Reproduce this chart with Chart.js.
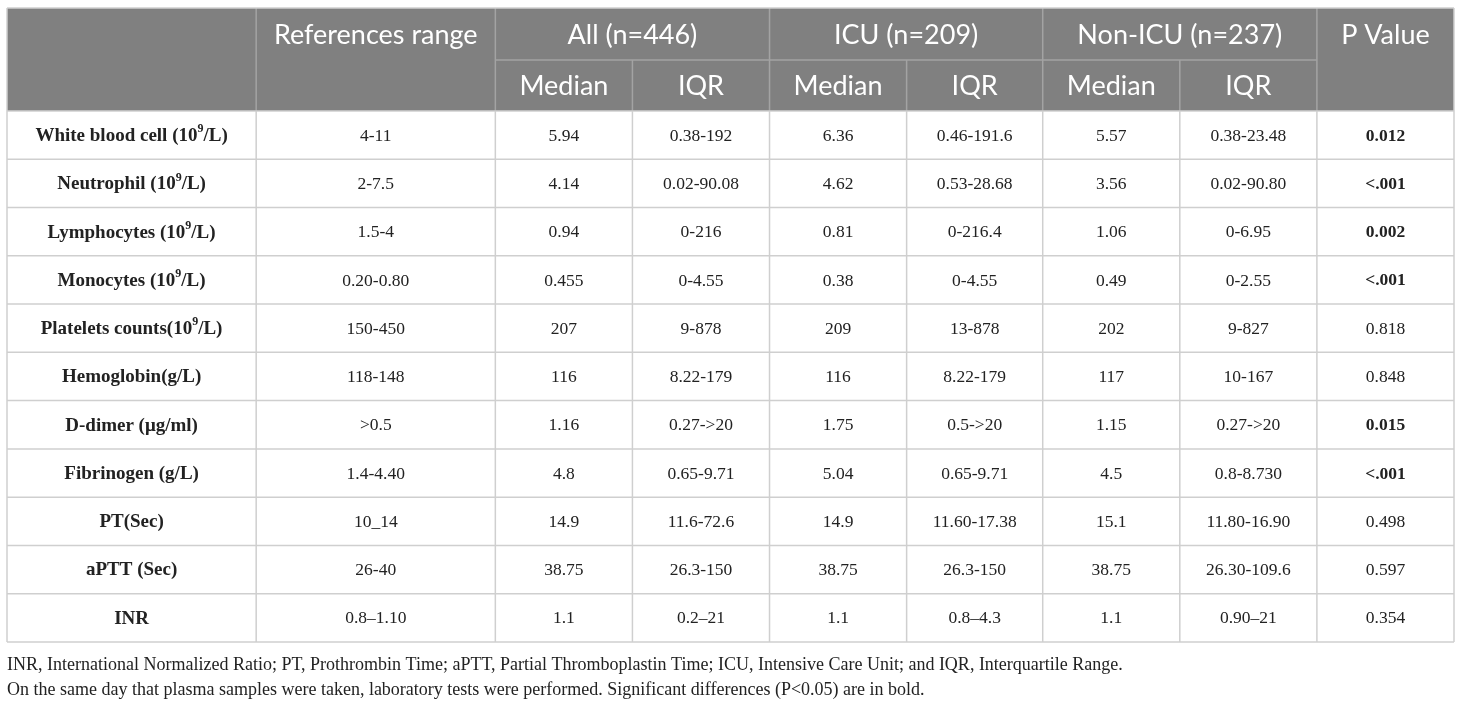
<!DOCTYPE html>
<html>
<head>
<meta charset="utf-8">
<script src="https://cdn.jsdelivr.net/npm/chart.js@4.4.1/dist/chart.umd.min.js"></script>
<style>
  html, body { margin: 0; padding: 0; background: #fff; }
  #wrap { width: 1460px; height: 704px; }
</style>
</head>
<body>
<div id="wrap"><canvas id="labTable"></canvas></div>
<script>
// table content
const rowLabels = [
    "White blood cell (10⁹/L)", "Neutrophil (10⁹/L)", "Lymphocytes (10⁹/L)", "Monocytes (10⁹/L)",
    "Platelets counts(10⁹/L)", "Hemoglobin(g/L)", "D-dimer (μg/ml)", "Fibrinogen (g/L)",
    "PT(Sec)", "aPTT (Sec)", "INR"
];
const referenceRanges = ["4-11", "2-7.5", "1.5-4", "0.20-0.80", "150-450", "118-148", ">0.5", "1.4-4.40", "10_14", "26-40", "0.8–1.10"];
const allMedian = ["5.94", "4.14", "0.94", "0.455", "207", "116", "1.16", "4.8", "14.9", "38.75", "1.1"];
const allIQR = ["0.38-192", "0.02-90.08", "0-216", "0-4.55", "9-878", "8.22-179", "0.27->20", "0.65-9.71", "11.6-72.6", "26.3-150", "0.2–21"];
const icuMedian = ["6.36", "4.62", "0.81", "0.38", "209", "116", "1.75", "5.04", "14.9", "38.75", "1.1"];
const icuIQR = ["0.46-191.6", "0.53-28.68", "0-216.4", "0-4.55", "13-878", "8.22-179", "0.5->20", "0.65-9.71", "11.60-17.38", "26.3-150", "0.8–4.3"];
const nonIcuMedian = ["5.57", "3.56", "1.06", "0.49", "202", "117", "1.15", "4.5", "15.1", "38.75", "1.1"];
const nonIcuIQR = ["0.38-23.48", "0.02-90.80", "0-6.95", "0-2.55", "9-827", "10-167", "0.27->20", "0.8-8.730", "11.80-16.90", "26.30-109.6", "0.90–21"];
const pValues = ["0.012", "<.001", "0.002", "<.001", "0.818", "0.848", "0.015", "<.001", "0.498", "0.597", "0.354"];
const significant = [true, true, true, true, false, false, true, true, false, false, false];

const topHeaders = ["References range", "P Value"];
const groupHeaders = ["All (n=446)", "ICU (n=209)", "Non-ICU (n=237)"];
const subHeaders = ["Median", "IQR"];
const footnotes = [
    "INR, International Normalized Ratio; PT, Prothrombin Time; aPTT, Partial Thromboplastin Time; ICU, Intensive Care Unit; and IQR, Interquartile Range.",
    "On the same day that plasma samples were taken, laboratory tests were performed. Significant differences (P<0.05) are in bold."
];

// layout
const colWidths = [249, 239, 137, 137, 137, 136, 137, 137, 137];
const headerHeights = [52, 51];
const rowHeight = 48.3;
const headerFill = "#808080";
const gridColor = "#cfcfcf";
const headerLine = "#a3a3a3";
const textColor = "#222222";

const colEdges = [0];
colWidths.forEach(w => colEdges.push(colEdges[colEdges.length - 1] + w));
const rowEdges = [0, headerHeights[0], headerHeights[0] + headerHeights[1]];
rowLabels.forEach(() => rowEdges.push(rowEdges[rowEdges.length - 1] + rowHeight));
const tableWidth = colEdges[colEdges.length - 1];
const tableHeight = rowEdges[rowEdges.length - 1];

// draws text, turning "⁹" into a raised small 9
function drawText(ctx, text, cx, cy, size, weight, family, color, align) {
    const main = (weight ? weight + " " : "") + size + "px " + family;
    const sup = (weight ? weight + " " : "") + Math.round(size * 0.62) + "px " + family;
    const parts = text.split(/(⁹)/).filter(p => p.length);
    ctx.save();
    ctx.fillStyle = color;
    ctx.textBaseline = "middle";
    ctx.textAlign = "left";
    let total = 0;
    const widths = parts.map(p => {
        ctx.font = p === "⁹" ? sup : main;
        const w = ctx.measureText(p === "⁹" ? "9" : p).width;
        total += w;
        return w;
    });
    let x = align === "left" ? cx : cx - total / 2;
    parts.forEach((p, k) => {
        if (p === "⁹") {
            ctx.font = sup;
            ctx.fillText("9", x, cy - size * 0.36);
        } else {
            ctx.font = main;
            ctx.fillText(p, x, cy);
        }
        x += widths[k];
    });
    ctx.restore();
}

function line(ctx, x1, y1, x2, y2, color, w) {
    ctx.beginPath();
    ctx.strokeStyle = color;
    ctx.lineWidth = w;
    ctx.moveTo(x1, y1);
    ctx.lineTo(x2, y2);
    ctx.stroke();
}

const tablePlugin = {
    id: "tablePlugin",
    afterDraw(chart) {
        const ctx = chart.ctx;
        const xs = chart.scales.x;
        const ys = chart.scales.y;
        const X = i => xs.getPixelForValue(colEdges[i]);
        const Y = j => ys.getPixelForValue(rowEdges[j]);
        const nCols = colWidths.length;
        const nRows = rowEdges.length - 1;

        // header background
        ctx.fillStyle = headerFill;
        ctx.fillRect(X(0), Y(0), X(nCols) - X(0), Y(2) - Y(0));

        // header lines
        [1, 2, 4, 6, 8].forEach(i => line(ctx, X(i), Y(0), X(i), Y(2), headerLine, 1.5));
        [3, 5, 7].forEach(i => line(ctx, X(i), Y(1), X(i), Y(2), headerLine, 1.5));
        line(ctx, X(2), Y(1), X(8), Y(1), headerLine, 1.5);

        // body grid
        for (let j = 2; j <= nRows; j++) line(ctx, X(0), Y(j), X(nCols), Y(j), gridColor, 1.5);
        for (let i = 0; i <= nCols; i++) line(ctx, X(i), Y(2), X(i), Y(nRows), gridColor, 1.5);
        line(ctx, X(0), Y(0), X(nCols), Y(0), gridColor, 1.5);
        line(ctx, X(0), Y(0), X(0), Y(2), gridColor, 1.5);
        line(ctx, X(nCols), Y(0), X(nCols), Y(2), gridColor, 1.5);

        // header text
        const hFam = "Lato";
        const hSize = 27;
        const midRow0 = (Y(0) + Y(1)) / 2 + 1;
        const midRow1 = (Y(1) + Y(2)) / 2 + 1;
        drawText(ctx, topHeaders[0], (X(1) + X(2)) / 2, midRow0, hSize, "", hFam, "#ffffff");
        drawText(ctx, topHeaders[1], (X(8) + X(9)) / 2, midRow0, hSize, "", hFam, "#ffffff");
        groupHeaders.forEach((g, k) => {
            const a = 2 + k * 2;
            drawText(ctx, g, (X(a) + X(a + 2)) / 2, midRow0, hSize, "", hFam, "#ffffff");
            subHeaders.forEach((s, m) => {
                drawText(ctx, s, (X(a + m) + X(a + m + 1)) / 2, midRow1, hSize, "", hFam, "#ffffff");
            });
        });

        // body text
        const serif = "'Liberation Serif'";
        const columns = [rowLabels, referenceRanges, allMedian, allIQR, icuMedian, icuIQR, nonIcuMedian, nonIcuIQR, pValues];
        columns.forEach((col, i) => {
            col.forEach((val, r) => {
                const cy = (Y(r + 2) + Y(r + 3)) / 2 + 1;
                const cx = (X(i) + X(i + 1)) / 2;
                if (i === 0) {
                    drawText(ctx, val, cx, cy, 19, "bold", serif, textColor);
                } else {
                    const isBold = i === nCols - 1 && significant[r];
                    drawText(ctx, val, cx, cy, 17.5, isBold ? "bold" : "", serif, textColor);
                }
            });
        });

        // footnotes
        footnotes.forEach((f, k) => {
            const cy = ys.getPixelForValue(tableHeight + 23 + k * 25);
            drawText(ctx, f, X(0), cy, 18, "", serif, textColor, "left");
        });
    }
};

new Chart(document.getElementById("labTable"), {
    type: "scatter",
    data: { datasets: [{ data: [] }] },
    options: {
        responsive: true,
        maintainAspectRatio: false,
        animation: false,
        devicePixelRatio: 1,
        layout: { padding: { left: 7, right: 6, top: 8, bottom: 62 } },
        plugins: { legend: { display: false }, tooltip: { enabled: false } },
        scales: {
            x: { type: "linear", min: 0, max: tableWidth, display: false },
            y: { type: "linear", min: 0, max: tableHeight, reverse: true, display: false }
        }
    },
    plugins: [tablePlugin]
});
</script>
</body>
</html>
